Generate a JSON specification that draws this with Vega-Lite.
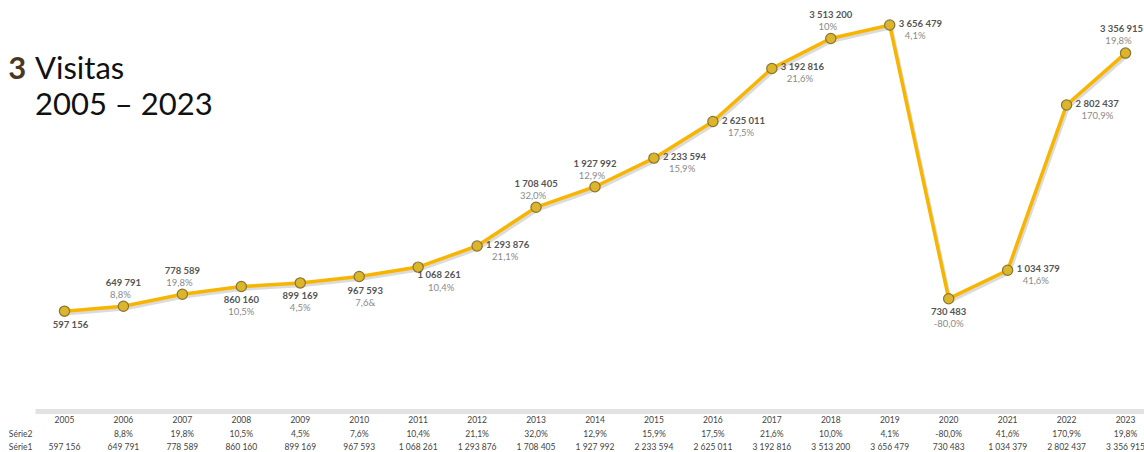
{
  "$schema": "https://vega.github.io/schema/vega-lite/v6.json",
  "padding": {"left": 8, "top": 10, "right": 0, "bottom": 0},
  "background": "white",
  "config": {
    "font": "Lato",
    "view": {"stroke": null},
    "locale": {"number": {"decimal": ",", "thousands": " ", "grouping": [3], "currency": ["", " €"], "minus": "-", "percent": "%"}},
    "concat": {"spacing": 44}
  },
  "title": {"text": "3", "anchor": "start", "frame": "bounds", "fontSize": 31, "fontWeight": "bold", "color": "#4b3621", "font": "Lato", "offset": -76},
  "data": {"values": [
    {"ano": "2005", "visitas": 597156, "var": null, "rotulo": ""},
    {"ano": "2006", "visitas": 649791, "var": 0.088, "rotulo": "8,8%"},
    {"ano": "2007", "visitas": 778589, "var": 0.198, "rotulo": "19,8%"},
    {"ano": "2008", "visitas": 860160, "var": 0.105, "rotulo": "10,5%"},
    {"ano": "2009", "visitas": 899169, "var": 0.045, "rotulo": "4,5%"},
    {"ano": "2010", "visitas": 967593, "var": 0.076, "rotulo": "7,6&"},
    {"ano": "2011", "visitas": 1068261, "var": 0.104, "rotulo": "10,4%"},
    {"ano": "2012", "visitas": 1293876, "var": 0.211, "rotulo": "21,1%"},
    {"ano": "2013", "visitas": 1708405, "var": 0.32, "rotulo": "32,0%"},
    {"ano": "2014", "visitas": 1927992, "var": 0.129, "rotulo": "12,9%"},
    {"ano": "2015", "visitas": 2233594, "var": 0.159, "rotulo": "15,9%"},
    {"ano": "2016", "visitas": 2625011, "var": 0.175, "rotulo": "17,5%"},
    {"ano": "2017", "visitas": 3192816, "var": 0.216, "rotulo": "21,6%"},
    {"ano": "2018", "visitas": 3513200, "var": 0.1, "rotulo": "10%"},
    {"ano": "2019", "visitas": 3656479, "var": 0.041, "rotulo": "4,1%"},
    {"ano": "2020", "visitas": 730483, "var": -0.8, "rotulo": "-80,0%"},
    {"ano": "2021", "visitas": 1034379, "var": 0.416, "rotulo": "41,6%"},
    {"ano": "2022", "visitas": 2802437, "var": 1.709, "rotulo": "170,9%"},
    {"ano": "2023", "visitas": 3356915, "var": 0.198, "rotulo": "19,8%"}
  ]},
  "vconcat": [
    {
      "width": 1120,
      "height": 346,
      "title": {"text": "Visitas", "subtitle": "2005 – 2023", "anchor": "start", "frame": "group", "fontSize": 31, "fontWeight": "normal", "color": "#111111", "font": "Lato", "subtitleFont": "Lato", "subtitleFontSize": 31, "subtitleColor": "#111111", "subtitlePadding": 5, "offset": -112},
      "encoding": {
        "x": {"field": "ano", "type": "ordinal", "scale": {"type": "point", "padding": 0.5}, "axis": null},
        "y": {"field": "visitas", "type": "quantitative", "scale": {"domain": [0, 3700000], "nice": false}, "axis": null}
      },
      "layer": [
        {"mark": {"type": "line", "color": "#b8b8b8", "opacity": 0.5, "strokeWidth": 3.5, "xOffset": 1.5, "yOffset": 2.5}},
        {"mark": {"type": "line", "color": "#f8b500", "strokeWidth": 3.5}},
        {"mark": {"type": "point", "filled": true, "size": 105, "fill": "#dbb52a", "stroke": "#8a7434", "strokeWidth": 1.2, "opacity": 1}},
        {
          "transform": [{"filter": {"field": "ano", "oneOf": ["2006", "2007", "2013", "2014", "2018"]}}],
          "layer": [
            {"mark": {"type": "text", "dy": -23, "fontSize": 9.5, "fontWeight": "bold", "color": "#555555"}, "encoding": {"text": {"field": "visitas", "type": "quantitative", "format": ",d"}}},
            {"mark": {"type": "text", "dy": -11, "dx": -3, "fontSize": 9.5, "color": "#8a8a8a"}, "encoding": {"text": {"field": "rotulo"}}}
          ]
        },
        {
          "transform": [{"filter": {"field": "ano", "oneOf": ["2023"]}}],
          "layer": [
            {"mark": {"type": "text", "dy": -24, "dx": -4, "fontSize": 9.5, "fontWeight": "bold", "color": "#555555"}, "encoding": {"text": {"field": "visitas", "type": "quantitative", "format": ",d"}}},
            {"mark": {"type": "text", "dy": -12, "dx": -7, "fontSize": 9.5, "color": "#8a8a8a"}, "encoding": {"text": {"field": "rotulo"}}}
          ]
        },
        {
          "transform": [{"filter": {"field": "ano", "oneOf": ["2008", "2009", "2020"]}}],
          "layer": [
            {"mark": {"type": "text", "dy": 13, "fontSize": 9.5, "fontWeight": "bold", "color": "#555555"}, "encoding": {"text": {"field": "visitas", "type": "quantitative", "format": ",d"}}},
            {"mark": {"type": "text", "dy": 25, "fontSize": 9.5, "color": "#8a8a8a"}, "encoding": {"text": {"field": "rotulo"}}}
          ]
        },
        {
          "transform": [{"filter": {"field": "ano", "oneOf": ["2005", "2010"]}}],
          "layer": [
            {"mark": {"type": "text", "dy": 14, "dx": 6, "fontSize": 9.5, "fontWeight": "bold", "color": "#555555"}, "encoding": {"text": {"field": "visitas", "type": "quantitative", "format": ",d"}}},
            {"mark": {"type": "text", "dy": 26, "dx": 6, "fontSize": 9.5, "color": "#8a8a8a"}, "encoding": {"text": {"field": "rotulo"}}}
          ]
        },
        {
          "transform": [{"filter": {"field": "ano", "oneOf": ["2011"]}}],
          "layer": [
            {"mark": {"type": "text", "dy": 8, "dx": 21, "fontSize": 9.5, "fontWeight": "bold", "color": "#555555"}, "encoding": {"text": {"field": "visitas", "type": "quantitative", "format": ",d"}}},
            {"mark": {"type": "text", "dy": 21, "dx": 23, "fontSize": 9.5, "color": "#8a8a8a"}, "encoding": {"text": {"field": "rotulo"}}}
          ]
        },
        {
          "transform": [{"filter": {"field": "ano", "oneOf": ["2012", "2015", "2016", "2017", "2019", "2021", "2022"]}}],
          "layer": [
            {"mark": {"type": "text", "dy": -1, "dx": 9, "align": "left", "fontSize": 9.5, "fontWeight": "bold", "color": "#555555"}, "encoding": {"text": {"field": "visitas", "type": "quantitative", "format": ",d"}}},
            {"mark": {"type": "text", "dy": 11, "dx": 15, "align": "left", "fontSize": 9.5, "color": "#8a8a8a"}, "encoding": {"text": {"field": "rotulo"}}}
          ]
        }
      ]
    },
    {
      "width": 1120,
      "height": 45,
      "transform": [
        {"fold": ["ano", "var", "visitas"], "as": ["linha", "valor"]}
      ],
      "encoding": {
        "x": {"field": "ano", "type": "ordinal", "scale": {"type": "point", "padding": 0.5},
          "axis": {"orient": "top", "labels": false, "ticks": false, "title": null, "domainColor": "#e2e2e2", "domainWidth": 5}},
        "y": {"field": "linha", "type": "nominal", "scale": {"type": "point", "domain": ["ano", "var", "visitas"], "padding": 0.73},
          "axis": {"title": null, "ticks": false, "domain": false, "labelFontSize": 8.5, "labelColor": "#444444", "labelPadding": 3, "labelFont": "Lato",
            "labelExpr": "datum.value == 'var' ? 'Série2' : datum.value == 'visitas' ? 'Série1' : ''"}}
      },
      "layer": [
        {
          "transform": [{"filter": "datum.linha == 'ano'"}],
          "mark": {"type": "text", "fontSize": 8.5, "color": "#444444"},
          "encoding": {"text": {"field": "valor"}}
        },
        {
          "transform": [{"filter": "datum.linha == 'var' && datum.valor != null"}],
          "mark": {"type": "text", "fontSize": 8.5, "color": "#444444"},
          "encoding": {"text": {"field": "valor", "type": "quantitative", "format": ".1%"}}
        },
        {
          "transform": [{"filter": "datum.linha == 'visitas'"}],
          "mark": {"type": "text", "fontSize": 8.5, "color": "#444444"},
          "encoding": {"text": {"field": "valor", "type": "quantitative", "format": ",d"}}
        }
      ]
    }
  ]
}
